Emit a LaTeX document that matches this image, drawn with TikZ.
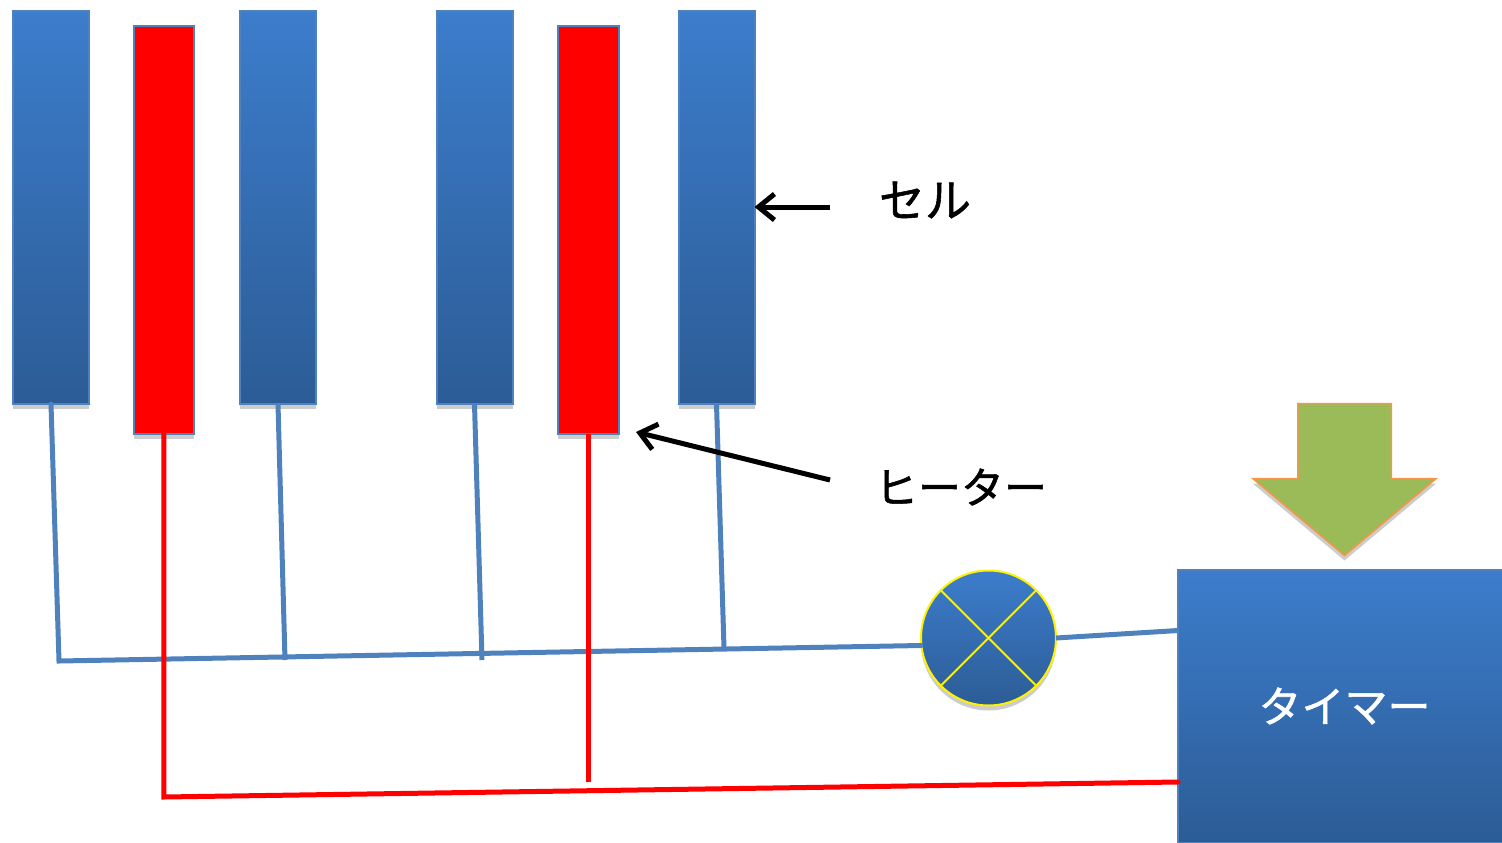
\documentclass[tikz,border=0pt]{standalone}
\usepackage{fontspec}
\newfontfamily\jpfont[RawFeature={embolden=1.2}]{Noto Sans CJK JP}
\usepackage{xcolor}
\usetikzlibrary{shapes.arrows, arrows.meta, positioning, shadows}
\definecolor{cellline}{HTML}{4F81BD}
\definecolor{celltop}{HTML}{3C7DCC}
\definecolor{cellbottom}{HTML}{2C5C96}
\definecolor{arrowfill}{HTML}{9BBB59}
\definecolor{arrowline}{HTML}{F79646}
\tikzset{
  softshadow/.style={drop shadow={shadow xshift=0pt, shadow yshift=-5pt, opacity=0.2, fill=black}},
  cellbox/.style={rectangle, draw=cellline, line width=2pt, top color=celltop, bottom color=cellbottom,
                  minimum width=76pt, minimum height=393pt, inner sep=0pt, outer sep=0pt, softshadow},
  heaterbox/.style={rectangle, draw=cellline, line width=2pt, fill=red,
                  minimum width=60.5pt, minimum height=408pt, inner sep=0pt, outer sep=0pt, softshadow},
  timerbox/.style={cellbox, minimum width=334pt, minimum height=273pt, font=\jpfont\fontsize{43}{43}\selectfont, text=white},
  switchdot/.style={circle, draw=yellow, line width=2pt, top color=celltop, bottom color=cellbottom,
                  minimum size=135pt, inner sep=0pt, outer sep=0pt, softshadow},
  heatarrow/.style={single arrow, shape border rotate=270, draw=arrowline, line width=1.5pt, fill=arrowfill,
                  minimum width=182pt, minimum height=152pt, single arrow head extend=45pt,
                  single arrow tip angle=100, single arrow head indent=0pt, inner sep=46pt, outer sep=0pt, softshadow},
  cellwire/.style={draw=cellline, line width=5pt},
  heaterwire/.style={draw=red, line width=5pt},
  crossline/.style={draw=yellow, line width=2pt},
  callout/.style={{Straight Barb[length=16pt,width=26pt,line width=5pt]}-, line width=5pt, draw=black},
  namelabel/.style={font=\jpfont\fontsize{43}{43}\selectfont, text=black},
}
\begin{document}
\begin{tikzpicture}[x=1pt, y=1pt]
  \useasboundingbox (0,0) rectangle (1502,-843);

  %% Wire bends
  \coordinate (buscorner) at (59,-661);
  \coordinate (busend) at (921,-645.5);
  \coordinate (taptwo) at (285,-660);
  \coordinate (tapthree) at (482,-660);
  \coordinate (tapfour) at (724,-648);
  \coordinate (redcorner) at (165,-797);
  \coordinate (redend) at (1178,-782);
  \coordinate (redstub) at (588,-782);
  \coordinate (timertap) at (1178,-630.5);

  %% Cells and heaters
  \node[cellbox, anchor=north west] (cellA) at (13,-11) {};
  \node[heaterbox, right=44.5pt of cellA.north east, anchor=north west, yshift=-15pt] (heaterA) {};
  \node[cellbox, right=46pt of heaterA.north east, anchor=north west, yshift=15pt] (cellB) {};
  \node[cellbox, right=120.5pt of cellB.north east, anchor=north west] (cellC) {};
  \node[heaterbox, right=45.5pt of cellC.north east, anchor=north west, yshift=-15pt] (heaterB) {};
  \node[cellbox, right=60pt of heaterB.north east, anchor=north west, yshift=15pt] (cellD) {};

  %% Timer side
  \node[switchdot] (switch) at (988.5,-638) {};
  \node[timerbox, anchor=north west] (timer) at (1177.5,-569.5) {タイマー};
  \node[heatarrow, above=14pt of timer, anchor=tip] (inflow) {};

  \draw[crossline] (switch.north west) -- (switch.south east);
  \draw[crossline] (switch.north east) -- (switch.south west);

  %% Blue wiring
  \draw[cellwire, line cap=round] (cellA.south) -- (buscorner) -- (busend);
  \draw[cellwire] (cellB.south) -- (taptwo);
  \draw[cellwire] (cellC.south) -- (tapthree);
  \draw[cellwire] (cellD.south) -- (tapfour);
  \draw[cellwire] (switch.east) -- (timertap);

  %% Red wiring
  \draw[heaterwire, line cap=round] (heaterA.south) -- (heaterA.south |- redcorner) -- (redend);
  \draw[heaterwire] (heaterB.south) -- (heaterB.south |- redstub);

  %% Labels
  \node[namelabel, scale=1.07] (celllabel) at (925,-200) {セル};
  \node[namelabel] (heaterlabel) at (961,-487) {ヒーター};
  \coordinate (celltail) at (830,-207);
  \coordinate (heatertail) at (830,-480);
  \coordinate (heatertip) at (636,-432);
  \draw[callout] (cellD.east |- celltail) -- (celltail);
  \draw[callout] (heatertip) -- (heatertail);
\end{tikzpicture}
\end{document}
